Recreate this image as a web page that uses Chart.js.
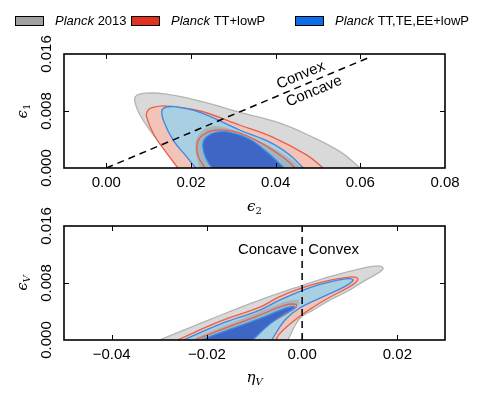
<!DOCTYPE html>
<html>
<head>
<meta charset="utf-8">
<script src="https://cdn.jsdelivr.net/npm/chart.js@4.4.1/dist/chart.umd.min.js"></script>
<style>
  html, body { margin: 0; padding: 0; background: #fff; }
  #wrap { position: relative; width: 479px; height: 398px; }
  canvas { position: absolute; left: 0; }
  #topPanel { top: 0; }
  #bottomPanel { top: 190px; }
</style>
</head>
<body>
<div id="wrap">
  <canvas id="topPanel" width="479" height="215"></canvas>
  <canvas id="bottomPanel" width="479" height="208"></canvas>
</div>
<script>
// tick labels
const topXTicks = [0, 0.02, 0.04, 0.06, 0.08]
const bottomXTicks = [-0.04, -0.02, 0, 0.02]
const yTicks = [0, 0.008, 0.016]

const legendNames = ['2013', 'TT+lowP', 'TT,TE,EE+lowP']

// (eps2, eps1) contours, 95% and 68%
const eps_p13_95 = [[0.0178, 0], [0.0138, 0.0026], [0.0102, 0.0054], [0.0079, 0.0075], [0.0067, 0.0095], [0.0072, 0.0102], [0.0091, 0.0105], [0.0138, 0.0104], [0.0221, 0.0094], [0.0316, 0.0078], [0.0410, 0.0063], [0.0474, 0.0047], [0.0552, 0.0023], [0.0600, 0]]
const eps_tt_95 = [[0.0169, 0], [0.0140, 0.0023], [0.0112, 0.0047], [0.0095, 0.0072], [0.0098, 0.0081], [0.0110, 0.0085], [0.0138, 0.0087], [0.0221, 0.0080], [0.0316, 0.0060], [0.0394, 0.0043], [0.0474, 0.0018], [0.0512, 0]]
const eps_all_95 = [[0.0211, 0], [0.0188, 0.0017], [0.0159, 0.0038], [0.0136, 0.0065], [0.0131, 0.0080], [0.0140, 0.0085], [0.0162, 0.0086], [0.0221, 0.0078], [0.0316, 0.0053], [0.0387, 0.0036], [0.0434, 0.0018], [0.0465, 0]]
const eps_p13_68 = [[0.0221, 0], [0.0211, 0.0028], [0.0216, 0.0043], [0.0230, 0.0053], [0.0256, 0.0058], [0.0292, 0.0054], [0.0339, 0.0043], [0.0391, 0.0028], [0.0434, 0.0012], [0.0460, 0]]
const eps_tt_68 = [[0.0233, 0], [0.0216, 0.0018], [0.0216, 0.0037], [0.0230, 0.0047], [0.0256, 0.0053], [0.0304, 0.0051], [0.0363, 0.0036], [0.0422, 0.0013], [0.0446, 0]]
const eps_all_68 = [[0.0249, 0], [0.0233, 0.0017], [0.0228, 0.0034], [0.0237, 0.0044], [0.0259, 0.0050], [0.0292, 0.0050], [0.0339, 0.0040], [0.0380, 0.0022], [0.0420, 0]]
const convexLine = [[0, 0], [0.062, 0.0155]]

// (etaV, epsV) contours
const pot_p13_95 = [[-0.0300, 0], [-0.0215, 0.0023], [-0.0152, 0.0040], [-0.0089, 0.0056], [-0.0011, 0.0074], [0.0058, 0.0089], [0.0128, 0.0101], [0.0159, 0.0104], [0.0170, 0.0101], [0.0164, 0.0096], [0.0128, 0.0082], [0.0094, 0.0068], [0.0058, 0.0056], [0.0023, 0.0042], [-0.0005, 0.0030], [-0.0030, 0]]
const pot_tt_95 = [[-0.0262, 0], [-0.0173, 0.0026], [-0.0089, 0.0046], [-0.0047, 0.0061], [0.0023, 0.0078], [0.0094, 0.0088], [0.0117, 0.0086], [0.0105, 0.0077], [0.0058, 0.0060], [0.0016, 0.0043], [-0.0015, 0.0028], [-0.0047, 0.0009], [-0.0055, 0]]
const pot_all_95 = [[-0.0249, 0], [-0.0173, 0.0022], [-0.0089, 0.0042], [-0.0047, 0.0056], [0.0023, 0.0075], [0.0094, 0.0086], [0.0107, 0.0084], [0.0092, 0.0076], [0.0058, 0.0065], [-0.0005, 0.0045], [-0.0036, 0.0028], [-0.0064, 0]]
const pot_p13_68 = [[-0.0232, 0], [-0.0152, 0.0022], [-0.0089, 0.0039], [-0.0036, 0.0053], [-0.0011, 0.0056], [-0.0007, 0.0052], [-0.0022, 0.0045], [-0.0057, 0.0030], [-0.0089, 0.0016], [-0.0114, 0]]
const pot_tt_68 = [[-0.0226, 0], [-0.0152, 0.0019], [-0.0089, 0.0035], [-0.0036, 0.0049], [-0.0013, 0.0050], [-0.0013, 0.0046], [-0.0036, 0.0036], [-0.0079, 0.0019], [-0.0112, 0]]
const pot_all_68 = [[-0.0213, 0], [-0.0152, 0.0015], [-0.0089, 0.0030], [-0.0041, 0.0043], [-0.0017, 0.0047], [-0.0020, 0.0043], [-0.0041, 0.0035], [-0.0074, 0.0019], [-0.0104, 0]]
const concaveLine = [[0, 0], [0, 0.016]]

const FONT = '"Liberation Sans", Arial, sans-serif'
const MATH = '"DejaVu Serif", serif'

const colors = {
  p13Fill: '#d9d9d9', p13Line: '#b4b4b4', p13Inner: 'rgba(135,135,140,0.35)',
  ttFill: '#f2c3b7', ttLine: '#e8604a',
  allFill: '#a9cfe3', allLine: '#3a88e6', allInner: '#3e66c5',
  legend: ['#a0a0a0', '#e0321f', '#0b6ee8']
}

function contour (points, fillColor, lineColor, order) {
  return {
    data: points.map(p => ({ x: p[0], y: p[1] })),
    showLine: true,
    fill: fillColor ? 'shape' : false,
    backgroundColor: fillColor || 'transparent',
    borderColor: lineColor,
    borderWidth: 1.3,
    pointRadius: 0,
    tension: 0.4,
    order
  }
}

function dashed (points) {
  return {
    data: points.map(p => ({ x: p[0], y: p[1] })),
    showLine: true,
    fill: false,
    borderColor: '#000',
    borderWidth: 1.5,
    borderDash: [7, 5],
    pointRadius: 0,
    order: 0
  }
}

function fmt (v, d) {
  return Number(v).toFixed(d).replace('-', '\u2212')
}

function scales (xMin, xMax, xTicks, xHeight) {
  return {
    x: {
      type: 'linear',
      min: xMin,
      max: xMax,
      afterBuildTicks: s => { s.ticks = xTicks.map(v => ({ value: v })) },
      afterFit: s => { s.height = xHeight },
      grid: { display: false, drawTicks: false },
      border: { display: false },
      ticks: { padding: 6, color: '#000', font: { family: FONT, size: 15 }, callback: v => fmt(v, 2) }
    },
    y: {
      type: 'linear',
      min: 0,
      max: 0.016,
      afterBuildTicks: s => { s.ticks = yTicks.map(v => ({ value: v })) },
      afterFit: s => { s.width = 64 },
      grid: { display: false, drawTicks: false },
      border: { display: false },
      ticks: {
        padding: -2,
        minRotation: 90,
        maxRotation: 90,
        crossAlign: 'center',
        color: '#000',
        font: { family: FONT, size: 15 },
        callback: v => fmt(v, 3)
      }
    }
  }
}

function mathLabel (ctx, base, sub, subItalic, x, y, vertical) {
  ctx.save()
  ctx.translate(x, y)
  if (vertical) ctx.rotate(-Math.PI / 2)
  ctx.fillStyle = '#000'
  ctx.textBaseline = 'alphabetic'
  ctx.textAlign = 'left'
  const baseFont = 'italic 15px ' + MATH
  const subFont = (subItalic ? 'italic ' : '') + '10px ' + MATH
  ctx.font = baseFont
  const bw = ctx.measureText(base).width
  ctx.font = subFont
  const sw = ctx.measureText(sub).width
  const x0 = -(bw + sw) / 2
  ctx.font = baseFont
  ctx.fillText(base, x0, 3)
  ctx.font = subFont
  ctx.fillText(sub, x0 + bw, 6)
  ctx.restore()
}

// frame + inward ticks like matplotlib
function drawFrame (chart, xTicks) {
  const { ctx, chartArea: a, scales: { x, y } } = chart
  ctx.save()
  ctx.strokeStyle = '#000'
  ctx.lineWidth = 1
  ctx.beginPath()
  xTicks.forEach(v => {
    const px = Math.round(x.getPixelForValue(v)) + 0.5
    if (px <= a.left + 1 || px >= a.right - 1) return
    ctx.moveTo(px, a.bottom); ctx.lineTo(px, a.bottom - 5)
    ctx.moveTo(px, a.top); ctx.lineTo(px, a.top + 5)
  })
  yTicks.forEach(v => {
    const py = Math.round(y.getPixelForValue(v)) + 0.5
    if (py <= a.top + 1 || py >= a.bottom - 1) return
    ctx.moveTo(a.left, py); ctx.lineTo(a.left + 5, py)
    ctx.moveTo(a.right, py); ctx.lineTo(a.right - 5, py)
  })
  ctx.stroke()
  ctx.lineWidth = 1.6
  ctx.strokeRect(a.left, a.top, a.right - a.left, a.bottom - a.top)
  ctx.restore()
}

const topDecor = {
  id: 'topDecor',
  afterDraw (chart) {
    const { ctx, chartArea: a, scales: { x, y } } = chart
    drawFrame(chart, topXTicks)
    mathLabel(ctx, '\u03f5', '2', false, (a.left + a.right) / 2, a.bottom + 40, false)
    mathLabel(ctx, '\u03f5', '1', false, 24, (a.top + a.bottom) / 2, true)

    // Convex / Concave along the dashed line
    const p0x = x.getPixelForValue(convexLine[0][0])
    const p0y = y.getPixelForValue(convexLine[0][1])
    const p1x = x.getPixelForValue(convexLine[1][0])
    const p1y = y.getPixelForValue(convexLine[1][1])
    const ang = Math.atan2(p1y - p0y, p1x - p0x)
    const cx = x.getPixelForValue(0.0475)
    const cy = y.getPixelForValue(0.0475 / 4)
    ctx.save()
    ctx.translate(cx, cy)
    ctx.rotate(ang)
    ctx.font = '15px ' + FONT
    ctx.fillStyle = '#000'
    ctx.textAlign = 'center'
    ctx.textBaseline = 'middle'
    ctx.fillText('Convex', -3, -10)
    ctx.fillText('Concave', 3, 10)
    ctx.restore()

    // legend
    ctx.save()
    const boxX = [15, 131, 295]
    ctx.textBaseline = 'middle'
    ctx.textAlign = 'left'
    legendNames.forEach((name, i) => {
      ctx.fillStyle = colors.legend[i]
      ctx.fillRect(boxX[i], 16, 28, 9)
      ctx.strokeStyle = '#000'
      ctx.lineWidth = 1
      ctx.strokeRect(boxX[i] + 0.5, 16.5, 28, 9)
      ctx.fillStyle = '#000'
      ctx.font = 'italic 13px ' + FONT
      const tx = boxX[i] + 40
      ctx.fillText('Planck', tx, 21)
      const w = ctx.measureText('Planck ').width
      ctx.font = '13px ' + FONT
      ctx.fillText(name, tx + w, 21)
    })
    ctx.restore()
  }
}

const bottomDecor = {
  id: 'bottomDecor',
  afterDraw (chart) {
    const { ctx, chartArea: a, scales: { x } } = chart
    drawFrame(chart, bottomXTicks)
    mathLabel(ctx, '\u03b7', 'V', true, (a.left + a.right) / 2, a.bottom + 39, false)
    mathLabel(ctx, '\u03f5', 'V', true, 24, (a.top + a.bottom) / 2, true)
    const x0 = x.getPixelForValue(0)
    ctx.save()
    ctx.font = '15px ' + FONT
    ctx.fillStyle = '#000'
    ctx.textBaseline = 'middle'
    ctx.textAlign = 'right'
    ctx.fillText('Concave', x0 - 5, a.top + 24)
    ctx.textAlign = 'left'
    ctx.fillText('Convex', x0 + 6, a.top + 24)
    ctx.restore()
  }
}

function baseOptions (padTop, sc) {
  return {
    responsive: false,
    animation: false,
    events: [],
    layout: { padding: { top: padTop, left: 0, right: 34, bottom: 0 } },
    plugins: { legend: { display: false }, tooltip: { enabled: false } },
    scales: sc
  }
}

new Chart(document.getElementById('topPanel').getContext('2d'), {
  type: 'scatter',
  data: {
    datasets: [
      contour(eps_p13_95, colors.p13Fill, colors.p13Line, 10),
      contour(eps_tt_95, colors.ttFill, colors.ttLine, 9),
      contour(eps_all_95, colors.allFill, colors.allLine, 8),
      contour(eps_p13_68, colors.p13Inner, colors.p13Line, 7),
      contour(eps_tt_68, null, colors.ttLine, 6),
      contour(eps_all_68, colors.allInner, colors.allLine, 5),
      dashed(convexLine)
    ]
  },
  options: baseOptions(54, scales(-0.01, 0.08, topXTicks, 47)),
  plugins: [topDecor]
})

new Chart(document.getElementById('bottomPanel').getContext('2d'), {
  type: 'scatter',
  data: {
    datasets: [
      contour(pot_p13_95, colors.p13Fill, colors.p13Line, 10),
      contour(pot_tt_95, colors.ttFill, colors.ttLine, 9),
      contour(pot_all_95, colors.allFill, colors.allLine, 8),
      contour(pot_p13_68, colors.p13Inner, colors.p13Line, 7),
      contour(pot_tt_68, null, colors.ttLine, 6),
      contour(pot_all_68, colors.allInner, colors.allLine, 5),
      dashed(concaveLine)
    ]
  },
  options: baseOptions(36, scales(-0.05, 0.03, bottomXTicks, 58)),
  plugins: [bottomDecor]
})
</script>
</body>
</html>
